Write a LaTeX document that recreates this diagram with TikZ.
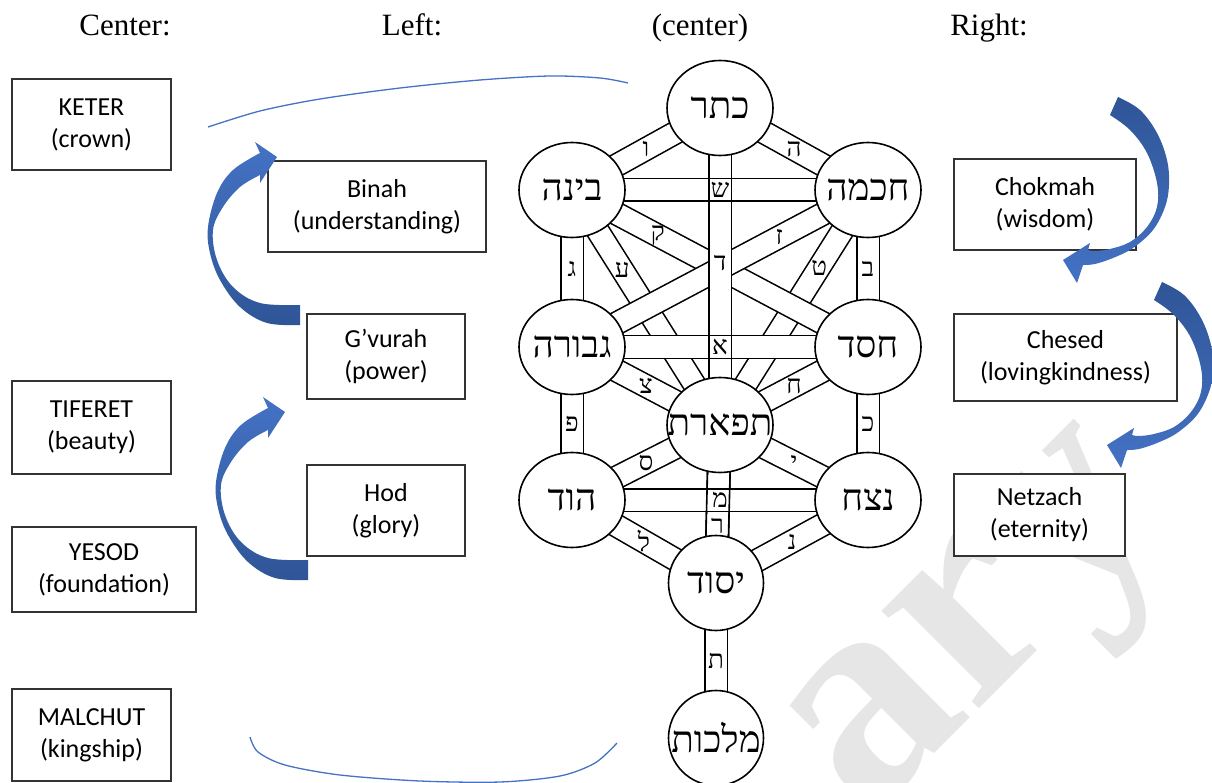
\documentclass[tikz,border=0pt]{standalone}
\usepackage{fontspec}
\setmainfont{Carlito}
\newfontfamily\headfont{Liberation Serif}
\newfontfamily\markfont{Liberation Serif}
\newfontfamily\hebfont[Script=Hebrew]{Liberation Serif}
\TeXXeTstate=1
\usetikzlibrary{shapes.geometric, backgrounds}

\definecolor{arrowlight}{HTML}{4472C4}
\definecolor{arrowdark}{HTML}{2F5597}
\definecolor{arcblue}{HTML}{4472C4}
\definecolor{markgray}{HTML}{E6E6E6}

\tikzset{
  heading/.style={font=\headfont\fontsize{31}{34}\selectfont, inner sep=0pt},
  namebox/.style={draw=black!80, fill=white, line width=1.2pt, align=center, inner sep=0pt,
    font=\fontsize{26}{32}\selectfont},
  sefira/.style={ellipse, draw, line width=1.6pt, fill=white, inner sep=0pt,
    minimum width=106pt, minimum height=95pt},
  sefiraname/.style={font=\hebfont\fontsize{37}{40}\selectfont, inner sep=0pt},
  pathband/.style={line width=1.6pt, double=white, double distance=21pt},
  pathletter/.style={font=\hebfont\fontsize{26}{28}\selectfont, inner sep=0pt},
  bandedge/.style={line width=1.6pt},
  thinarc/.style={draw=arcblue, line width=1.3pt},
  riseshade/.style={top color=arrowlight, bottom color=arrowdark},
  fallshade/.style={top color=arrowdark, bottom color=arrowlight},
  watermark/.style={font=\markfont\bfseries\fontsize{300}{300}\selectfont, text=markgray, inner sep=0pt}
}

% block arrows, drawn as filled outlines
\newcommand{\risingarrow}{%
  plot[smooth, tension=0.6] coordinates {(300,325) (267,323) (240,307) (220,280) (210,253) (208,227) (217,193) (233,170) (260,153)}
  -- (255,142) -- (277,157) -- (260,183) -- (260,175)
  -- plot[smooth, tension=0.6] coordinates {(260,175) (240,187) (223,207) (213,230) (217,260) (233,287) (260,303) (300,305)}
  -- cycle}
\newcommand{\fallingarrow}{%
  plot[smooth, tension=0.6] coordinates {(1118,97) (1140,110) (1157,133) (1167,160) (1169,185) (1165,207) (1153,230) (1133,248) (1113,258) (1095,264) (1083,265)}
  -- (1077,283) -- (1063,260) -- (1090,243) -- (1088,250)
  -- plot[smooth, tension=0.6] coordinates {(1088,250) (1095,251) (1110,249) (1130,242) (1147,227) (1157,207) (1157,183) (1147,153) (1130,130) (1110,115)}
  -- cycle}

\begin{document}
\begin{tikzpicture}[x=1pt, y=-1pt]
\useasboundingbox (0,0) rectangle (1212,783);
\clip (0,0) rectangle (1212,783);

% watermark
\node[watermark, rotate=45] (mark) at (993,640) {ary};

% headings
\node[heading, anchor=base] (hcenter) at (125,36) {Center:};
\node[heading, anchor=base] (hleft) at (412,36) {Left:};
\node[heading, anchor=base] (hmiddle) at (700,36) {(center)};
\node[heading, anchor=base] (hright) at (989,36) {Right:};

% left column
\node[namebox, minimum width=159pt, minimum height=91pt] (keterbox) at (91.5,124.5) {KETER\\(crown)};
\node[namebox, minimum width=159pt, minimum height=93pt] (tiferetbox) at (91.5,427.5) {TIFERET\\(beauty)};
\node[namebox, minimum width=184pt, minimum height=85pt] (yesodbox) at (104,569.5) {YESOD\\(foundation)};
\node[namebox, minimum width=159pt, minimum height=92pt] (malchutbox) at (91.5,735) {MALCHUT\\(kingship)};

% second column
\node[namebox, minimum width=218pt, minimum height=91pt] (binahbox) at (377,206.5) {Binah\\(understanding)};
\node[namebox, minimum width=158pt, minimum height=85pt] (gvurahbox) at (386,356.5) {G’vurah\\(power)};
\node[namebox, minimum width=158pt, minimum height=91pt] (hodbox) at (386,510.5) {Hod\\(glory)};

% right column
\node[namebox, minimum width=182pt, minimum height=91pt] (chokmahbox) at (1045,204.5) {Chokmah\\(wisdom)};
\node[namebox, minimum width=223pt, minimum height=87pt] (chesedbox) at (1065.5,357.5) {Chesed\\(lovingkindness)};
\node[namebox, minimum width=171pt, minimum height=82pt] (netzachbox) at (1039.5,515) {Netzach\\(eternity)};

% sefirot
\node[sefira, label={[sefiraname]center:{\beginR כתר\endR}}] (keter) at (720,108) {};
\node[sefira, label={[sefiraname]center:{\beginR בינה\endR}}] (binah) at (572,190) {};
\node[sefira, label={[sefiraname]center:{\beginR חכמה\endR}}] (chokmah) at (868,190) {};
\node[sefira, label={[sefiraname]center:{\beginR גבורה\endR}}] (gevurah) at (572,347) {};
\node[sefira, label={[sefiraname]center:{\beginR חסד\endR}}] (chesed) at (868,347) {};
\node[sefira, label={[sefiraname]center:{\beginR תפארת\endR}}] (tiferet) at (720,425) {};
\node[sefira, label={[sefiraname]center:{\beginR הוד\endR}}] (hod) at (572,500) {};
\node[sefira, label={[sefiraname]center:{\beginR נצח\endR}}] (netzach) at (868,500) {};
\node[sefira, minimum width=95pt, label={[sefiraname]center:{\beginR יסוד\endR}}] (yesod) at (716,583) {};
\node[sefira, minimum width=95pt, label={[sefiraname]center:{\beginR מלכות\endR}}] (malchut) at (716,738) {};

% the 22 paths
\begin{pgfonlayer}{background}
\draw[pathband] (binah.center) -- node[pathletter, pos=.34] {ע} (tiferet.center);
\draw[pathband] (chokmah.center) -- node[pathletter, pos=.33] {ט} (tiferet.center);
\draw[pathband] (binah.center) -- node[pathletter, pos=.29] {ק} (chesed.center);
\draw[pathband] (chokmah.center) -- node[pathletter, pos=.30] {ז} (gevurah.center);
\draw[pathband] (keter.center) -- node[pathletter] {ו} (binah.center);
\draw[pathband] (keter.center) -- node[pathletter] {ה} (chokmah.center);
\draw[pathband] (binah.center) -- node[pathletter] {ג} (gevurah.center);
\draw[pathband] (chokmah.center) -- node[pathletter] {ב} (chesed.center);
\draw[pathband] (gevurah.center) -- node[pathletter] {צ} (tiferet.center);
\draw[pathband] (chesed.center) -- node[pathletter] {ח} (tiferet.center);
\draw[pathband] (gevurah.center) -- node[pathletter] {פ} (hod.center);
\draw[pathband] (chesed.center) -- node[pathletter] {כ} (netzach.center);
\draw[pathband] (tiferet.center) -- node[pathletter] {ס} (hod.center);
\draw[pathband] (tiferet.center) -- node[pathletter] {י} (netzach.center);
\draw[pathband] (hod.center) -- node[pathletter] {ל} (yesod.center);
\draw[pathband] (netzach.center) -- node[pathletter] {נ} (yesod.center);
\draw[pathband] (yesod.center) -- node[pathletter] {ת} (malchut.center);
\draw[pathband] (keter.center) -- node[pathletter, pos=.49] {ד} (tiferet.center);
\draw[pathband] (tiferet.center) -- node[pathletter, pos=.64] {ר} (yesod.center);
\draw[pathband] (binah.center) -- node[pathletter] {ש} (chokmah.center);
\draw[pathband] (gevurah.center) -- node[pathletter] {א} (chesed.center);
\draw[pathband] (hod.center) -- node[pathletter] {מ} (netzach.center);
% middle column shows through the crossings
\draw[bandedge] ([xshift=-11.3pt]keter.center) -- ([xshift=-11.3pt]tiferet.center);
\draw[bandedge] ([xshift=11.3pt]keter.center) -- ([xshift=11.3pt]tiferet.center);
\draw[bandedge] ([xshift=-11.3pt]tiferet.center) -- ([xshift=-11.3pt]yesod.center);
\draw[bandedge] ([xshift=11.3pt]tiferet.center) -- ([xshift=11.3pt]yesod.center);
\end{pgfonlayer}

% curved block arrows
\shade[riseshade] \risingarrow;
\begin{scope}[shift={(8,255)}]
\shade[riseshade] \risingarrow;
\end{scope}
\shade[fallshade] \fallingarrow;
\begin{scope}[shift={(44,185)}]
\shade[fallshade] \fallingarrow;
\end{scope}

% thin arcs
\draw[thinarc] plot[smooth] coordinates {(208,127) (260,111) (320,99) (400,88) (480,80) (550,76) (600,78) (628,83)};
\draw[thinarc] plot[smooth] coordinates {(250,737) (258,752) (285,765) (340,775) (420,781) (500,782) (560,776) (595,763) (617,743)};

\end{tikzpicture}
\end{document}
